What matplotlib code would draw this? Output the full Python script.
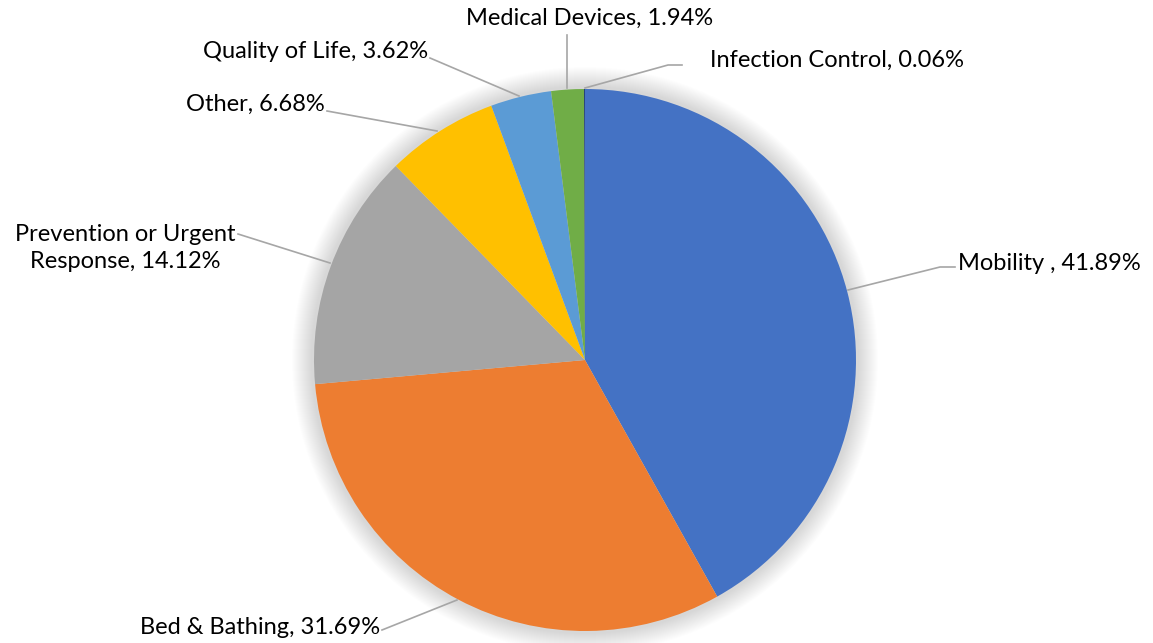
import matplotlib.pyplot as plt
from matplotlib.patches import Circle

labels = ["Mobility ", "Bed & Bathing", "Prevention or Urgent\nResponse", "Other",
          "Quality of Life", "Medical Devices", "Infection Control"]
values = [41.89, 31.69, 14.12, 6.68, 3.62, 1.94, 0.06]
colors = ["#4472C4", "#ED7D31", "#A5A5A5", "#FFC000", "#5B9BD5", "#70AD47", "#264478"]

W, H = 1153, 643
fig = plt.figure(figsize=(W / 100, H / 100), dpi=100)
ax = fig.add_axes([0, 0, 1, 1])

cx, cy, r = 585, H - 360, 271

# soft glow behind the pie
for k in range(20):
    ax.add_patch(Circle((cx, cy), r + 22 - k, color='black', alpha=0.008, lw=0, zorder=1))

ax.pie(values, colors=colors, startangle=90, counterclock=False,
       center=(cx, cy), radius=r, frame=True,
       wedgeprops=dict(linewidth=0))
for w in ax.patches:
    w.set_zorder(2)
ax.set_xlim(0, W)
ax.set_ylim(0, H)
ax.set_aspect('equal')
ax.axis('off')

plt.rcParams['font.family'] = ['Lato', 'DejaVu Sans']
fs = 17
line_kw = dict(color='#A6A6A6', lw=1.2, zorder=3)

# label positions and leader lines (pixel coordinates, y from top)
layout = [
    # text x, text y, ha, line points
    (958, 263, 'left', [(848, 290), (940, 267), (955, 267)]),
    (380, 627, 'right', [(457, 600), (382, 630)]),
    (125, 248, 'center', [(330, 263), (238, 234)]),
    (325, 104, 'right', [(437, 131), (327, 111)]),
    (428, 52, 'right', [(519, 96), (430, 58)]),
    (590, 18, 'center', [(567, 88), (567, 35)]),
    (710, 60, 'left', [(585, 88), (668, 65), (682, 65)]),
]

for lab, val, (tx, ty, ha, pts) in zip(labels, values, layout):
    xs = [p[0] for p in pts]
    ys = [H - p[1] for p in pts]
    ax.plot(xs, ys, **line_kw)
    ax.text(tx, H - ty, f"{lab}, {val:.2f}%", ha=ha, va='center', fontsize=fs,
            multialignment='center', linespacing=1.35, color='#000000', zorder=4)

fig.savefig("out.png", dpi=100)
